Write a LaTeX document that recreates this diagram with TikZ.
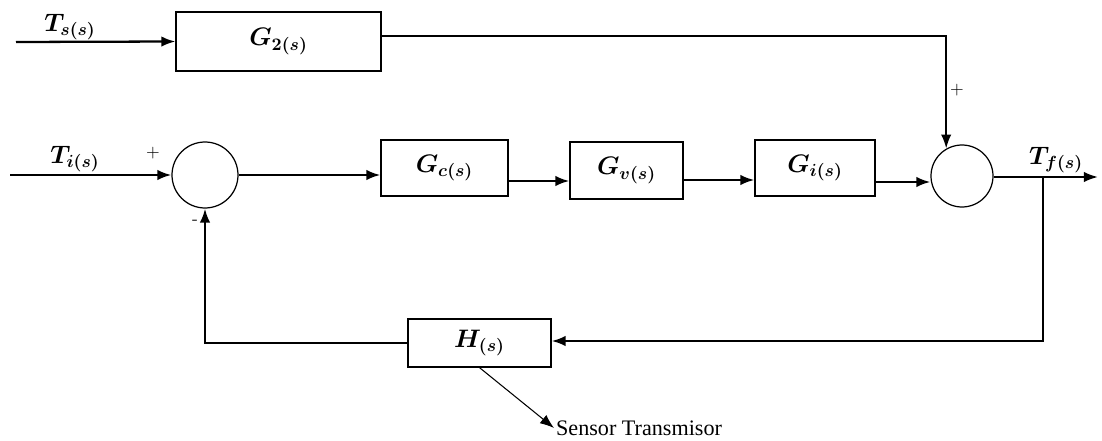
\documentclass[tikz,border=0pt]{standalone}
\usepackage{amsmath,bm}
\usepackage{fontspec}
\newfontfamily\timesf{Liberation Serif}
\usetikzlibrary{arrows.meta}
\begin{document}
\begin{tikzpicture}[x=0.2mm,y=-0.2mm,
  blk/.style={draw,line width=0.7pt,rectangle,inner sep=0pt,font=\fontsize{14}{16}\selectfont},
  sumc/.style={draw,line width=0.7pt,circle,inner sep=0pt},
  sig/.style={line width=1.3pt},
  arr/.style={sig,-{Latex[length=8pt,width=6pt]}},
  lbl/.style={inner sep=0pt,font=\fontsize{14}{16}\selectfont},
  sgn/.style={inner sep=0pt,font=\fontsize{10}{12}\selectfont}]
\useasboundingbox (0,0) rectangle (1102,441);
% blocks
\node[blk,minimum width=41mm,minimum height=11.8mm] (g2) at (278.5,41.5) {$\bm{G_{2(s)}}$};
\node[blk,minimum width=25.4mm,minimum height=11.2mm] (gc) at (444.5,168) {$\bm{G_{c(s)}}$};
\node[blk,minimum width=22.6mm,minimum height=11.4mm] (gv) at (626.5,170.5) {$\bm{G_{v(s)}}$};
\node[blk,minimum width=24mm,minimum height=11.2mm] (gi) at (815,168) {$\bm{G_{i(s)}}$};
\node[blk,minimum width=28.6mm,minimum height=9.6mm] (h) at (479.5,343) {$\bm{H_{(s)}}$};
\node[sumc,minimum size=13.2mm] (s1) at (205,175) {};
\node[sumc,minimum size=12.4mm] (s2) at (962,176) {};
% coordinates
\coordinate (ts) at (16,42);
\coordinate (ti) at (10,175);
\coordinate (out) at (1098,177);
\coordinate (br) at (1043,177);
\coordinate (brd) at (1043,341);
% labels
\node[lbl] (lts) at (70,27) {$\bm{T_{s(s)}}$};
\node[lbl] (lti) at (75,159) {$\bm{T_{i(s)}}$};
\node[lbl] (ltf) at (1056,160) {$\bm{T_{f(s)}}$};
\node[sgn] (p1) at (153,153) {+};
\node[sgn] (m1) at (195,222) {-};
\node[sgn] (p2) at (957,90) {+};
\node[inner sep=1pt,anchor=west,font=\timesf\fontsize{12.6}{14}\selectfont] (sens) at (554,428) {Sensor Transmisor};
% connectors
\draw[arr] (ts) -- (g2.west);
\draw[arr] (g2.east |- 0,36) -| (s2.120);
\draw[arr] (ti) -- (s1.west);
\draw[arr] (s1.east) -- (gc.west |- s1.east);
\draw[arr] (gc.east |- 0,181) -- (gv.west |- 0,181);
\draw[arr] (gv.east |- 0,180) -- (gi.west |- 0,180);
\draw[arr] (gi.east |- 0,182) -- (s2.west |- 0,182);
\draw[arr] (s2.east |- out) -- (out);
\draw[arr] (br) -- (brd) -- (h.east |- brd);
\draw[arr] (h.west) -| (s1.south);
\draw[line width=0.6pt,-{Latex[length=8pt,width=6pt]}] (h.south) -- (sens.west);
\end{tikzpicture}
\end{document}
